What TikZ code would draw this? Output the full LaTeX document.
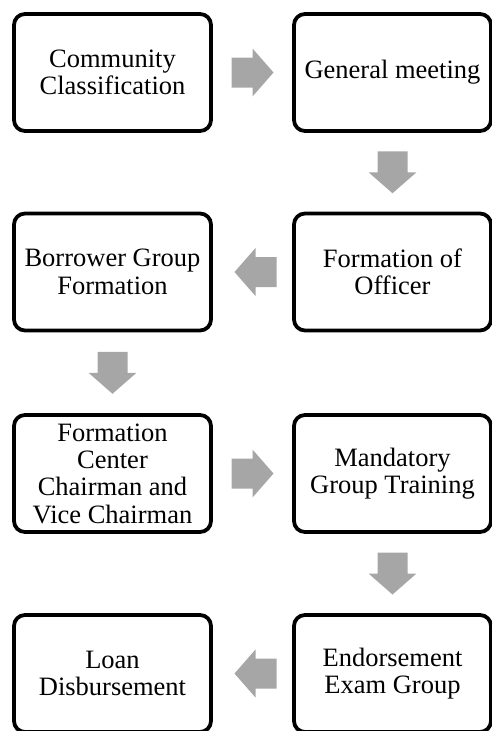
\documentclass[tikz,border=0pt]{standalone}
\usepackage{fontspec}
\setmainfont{Liberation Serif}
\usetikzlibrary{calc}
\definecolor{arrowgray}{RGB}{166,166,166}

\begin{document}
\begin{tikzpicture}[x=1pt,y=-1pt,
    stage/.style={draw,line width=3.8pt,rounded corners=11pt,minimum width=197pt,
      minimum height=117pt,align=center,inner sep=0pt,
      font=\fontsize{26.5}{27.3}\selectfont},
    blockarrow/.pic={\fill[arrowgray] (-21,-15) -- (0,-15) -- (0,-24) -- (21,0)
      -- (0,24) -- (0,15) -- (-21,15) -- cycle;}
  ]
  \clip (0,0) rectangle (492,731);
  \node[stage] (comm) at (112.5,72.5) {Community\\Classification};
  \node[stage] (meet) at (392.5,72.5) {General meeting};
  \node[stage] (officer) at (392.5,272) {Formation of\\Officer};
  \node[stage] (borrower) at (112.5,272) {Borrower Group\\Formation};
  \node[stage] (chair) at (112.5,473.5) {Formation\\Center\\Chairman and\\Vice Chairman};
  \node[stage] (training) at (392.5,473.5) {Mandatory\\Group Training};
  \node[stage] (exam) at (392.5,673.5) {Endorsement\\Exam Group};
  \node[stage] (loan) at (112.5,673.5) {Loan\\Disbursement};
    \pic at ($(comm.east)!.5!(meet.west)$) {blockarrow};
    \pic[rotate=-90] at ($(meet.south)!.5!(officer.north)$) {blockarrow};
    \pic[rotate=180] at ($(officer.west)!.5!(borrower.east)+(3,0)$) {blockarrow};
    \pic[rotate=-90] at ($(borrower.south)!.5!(chair.north)$) {blockarrow};
    \pic at ($(chair.east)!.5!(training.west)$) {blockarrow};
    \pic[rotate=-90] at ($(training.south)!.5!(exam.north)$) {blockarrow};
    \pic[rotate=180] at ($(exam.west)!.5!(loan.east)+(3,0)$) {blockarrow};
\end{tikzpicture}
\end{document}
